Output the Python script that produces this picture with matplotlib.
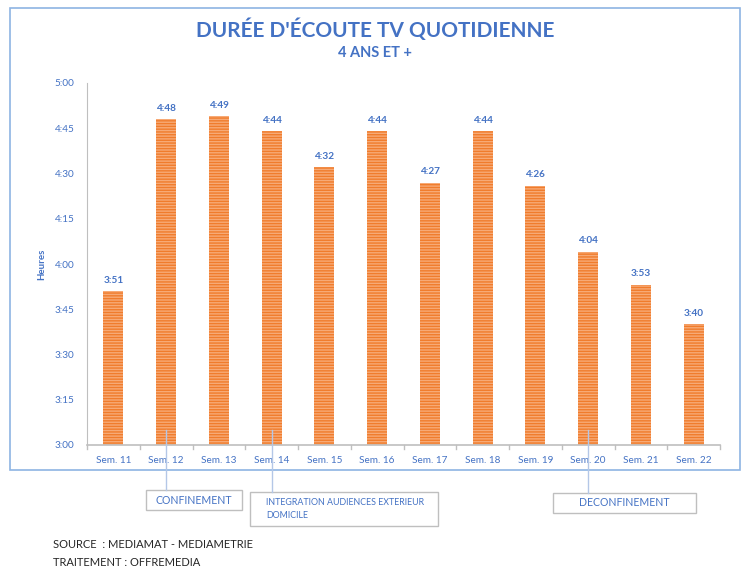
import matplotlib
matplotlib.use("Agg")
import matplotlib.pyplot as plt
from matplotlib.patches import Rectangle

plt.rcParams['font.family'] = ['Lato', 'DejaVu Sans']
plt.rcParams['hatch.linewidth'] = 1.0

weeks = ["Sem. 11", "Sem. 12", "Sem. 13", "Sem. 14", "Sem. 15", "Sem. 16",
         "Sem. 17", "Sem. 18", "Sem. 19", "Sem. 20", "Sem. 21", "Sem. 22"]
minutes = [231, 288, 289, 284, 272, 284, 267, 284, 266, 244, 233, 220]
ytick_minutes = [180, 195, 210, 225, 240, 255, 270, 285, 300]

BLUE = '#4472C4'

def fmt(m):
    return f"{m // 60}:{m % 60:02d}"

fig = plt.figure(figsize=(7.5, 5.88), dpi=100)
W, H = 750, 588

def fx(px):
    return px / W

def fy(py):
    return 1 - py / H

# outer frame
fig.patches.append(Rectangle((fx(10), fy(470)), fx(740) - fx(10), fy(8) - fy(470),
                             transform=fig.transFigure, fill=False,
                             edgecolor='#8EB4E3', linewidth=1.2))

ax = fig.add_axes([fx(87), fy(445), fx(720) - fx(87), fy(83) - fy(445)])
x = list(range(len(weeks)))
ax.bar(x, [m - 180 for m in minutes], bottom=180, width=0.38,
       color='#F7AA76', edgecolor='#F07C2C', hatch='------', linewidth=0)
ax.set_ylim(180, 300)
ax.set_xlim(-0.5, len(weeks) - 0.5)
ax.set_yticks(ytick_minutes)
ax.set_yticklabels([fmt(m) for m in ytick_minutes], color=BLUE, fontsize=7.2)
ax.set_xticks(x)
ax.set_xticklabels(weeks, color=BLUE, fontsize=7.2)
ax.tick_params(axis='y', length=0, pad=9)
ax.tick_params(axis='x', length=0, pad=8)
for s in ['top', 'right']:
    ax.spines[s].set_visible(False)
ax.spines['left'].set_color('#BFBFBF')
ax.spines['bottom'].set_color('#BFBFBF')
ax.spines['bottom'].set_linewidth(1.2)
# tick separators at bottom
for i in range(len(weeks) + 1):
    ax.plot([i - 0.5, i - 0.5], [180, 178.8], color='#BFBFBF', lw=1, clip_on=False)

for xi, m in zip(x, minutes):
    ax.text(xi, m + 2.2, fmt(m), ha='center', va='bottom', fontsize=7.2,
            fontweight='bold', color=BLUE)

ax.set_ylabel("Heures", fontsize=7, fontweight='bold', color=BLUE, labelpad=6)

fig.text(0.5, fy(30), "DURÉE D'ÉCOUTE TV QUOTIDIENNE", ha='center', va='center',
         fontsize=15, fontweight='bold', color=BLUE)
fig.text(0.5, fy(53), "4 ANS ET +", ha='center', va='center',
         fontsize=10.5, fontweight='bold', color=BLUE)

# annotation boxes
def box(x0, y0, x1, y1, lines, align='center', size=8):
    fig.patches.append(Rectangle((fx(x0), fy(y1)), fx(x1) - fx(x0), fy(y0) - fy(y1),
                                 transform=fig.transFigure, fill=True, facecolor='white',
                                 edgecolor='#BFBFBF', linewidth=1))
    if align == 'center':
        fig.text(fx((x0 + x1) / 2), fy((y0 + y1) / 2), lines, ha='center', va='center',
                 fontsize=size, color=BLUE)
    else:
        fig.text(fx(x0 + 16), fy((y0 + y1) / 2), lines, ha='left', va='center',
                 fontsize=size, color=BLUE, linespacing=1.7)

def leader(week_idx, py_top, py_bottom):
    xd = ax.transData.transform((week_idx, 180))[0] / fig.bbox.width
    fig.add_artist(plt.Line2D([xd, xd], [fy(py_top), fy(py_bottom)],
                              transform=fig.transFigure, color='#B4C7E7', lw=1))

leader(1, 430, 490)
leader(3, 430, 492)
leader(9, 430, 493)
box(146, 490, 242, 510, "CONFINEMENT", size=7.6)
box(250, 492, 438, 526, "INTEGRATION AUDIENCES EXTERIEUR\nDOMICILE", align='left', size=6.4)
box(553, 493, 696, 513, "DECONFINEMENT", size=7.6)

fig.text(fx(53), fy(545), "SOURCE  : MEDIAMAT - MEDIAMETRIE", ha='left', va='center',
         fontsize=8, color='#262626')
fig.text(fx(53), fy(562), "TRAITEMENT : OFFREMEDIA", ha='left', va='center',
         fontsize=8, color='#262626')

fig.savefig("out.png", dpi=100)
